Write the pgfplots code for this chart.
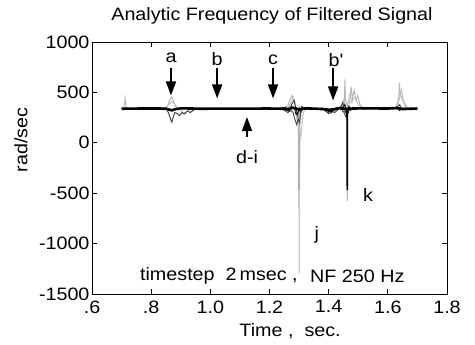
\documentclass[border=0pt]{standalone}
\usepackage{pgfplots}
\pgfplotsset{compat=1.18}
\usepackage{fontspec}
\setmainfont{Liberation Sans}
\newfontfamily\wf[FakeStretch=1.1]{Liberation Sans}
\newcommand\fs{\wf\fontsize{18}{20}\selectfont}
\usetikzlibrary{arrows.meta}
\begin{document}
\begin{tikzpicture}
\begin{axis}[
  at={(0,0)}, anchor=south west,
  scale only axis, width=355bp, height=252bp,
  xmin=0.6, xmax=1.8, ymin=-1500, ymax=1000,
  xtick={0.6,0.8,1.0,1.2,1.4,1.6,1.8},
  xticklabels={.6,.8,1.0,1.2,1.4,1.6,1.8},
  ytick={-1500,-1000,-500,0,500,1000},
  yticklabels={-1500,-1000,-500,0,500,1000},
  tick align=inside, major tick length=5bp,
  xtick pos=both, ytick pos=both,
  ticklabel style={font=\fs},
  xticklabel style={yshift=-3bp},
  yticklabel style={xshift=1bp},
  axis line style={line width=0.8bp},
  tick style={line width=0.8bp, black},
  title={Analytic Frequency of Filtered Signal},
  title style={font=\fs, at={(axis description cs:0.507,1.079)}, anchor=center},
  xlabel={Time ,\ \ sec.},
  xlabel style={font=\fs, at={(axis description cs:0.558,-0.147)}, anchor=center},
  ylabel={rad/sec},
  ylabel style={font=\fs, at={(axis description cs:-0.200,0.611)}, anchor=center, rotate=0},
  clip=false,
]
% spikes (gray)
\addplot[gray!60, line width=2.2bp] coordinates {(1.2994,340)(1.3000,-470)(1.3006,340)};
\addplot[gray!60, line width=1.1bp] coordinates {(1.2997,340)(1.3000,-1290)(1.3003,340)};
\addplot[gray!60, line width=1.1bp] coordinates {(1.4627,340)(1.4630,-580)(1.4633,340)};
% gray trace
\addplot[gray!55, line width=1bp] coordinates {
(0.700,340)(0.708,345)(0.712,445)(0.716,350)(0.725,340)(0.845,340)(0.855,360)(0.862,420)(0.868,455)(0.874,430)(0.880,370)(0.888,340)
(1.250,340)(1.262,370)(1.270,430)(1.276,470)(1.282,440)(1.288,380)(1.292,250)(1.296,300)(1.302,300)(1.308,340)
(1.440,340)(1.450,370)(1.453,400)(1.455,630)(1.457,420)(1.462,380)(1.468,360)(1.472,420)(1.476,560)(1.480,430)(1.486,520)(1.492,420)(1.498,470)(1.506,380)(1.515,340)
(1.625,340)(1.633,400)(1.637,450)(1.639,595)(1.642,480)(1.650,420)(1.660,360)(1.675,340)(1.700,340)};
% second gray trace
\addplot[gray!50, line width=1bp] coordinates {
(0.830,340)(0.850,350)(0.860,380)(0.870,410)(0.880,380)(0.890,345)(0.900,330)(0.905,300)(0.915,300)(0.925,320)(0.935,305)(0.945,325)(0.960,340)
(1.260,340)(1.272,390)(1.280,450)(1.288,360)(1.296,200)(1.302,120)(1.306,60)(1.310,180)(1.314,300)(1.322,340)
(1.440,340)(1.450,420)(1.458,360)(1.466,400)(1.472,480)(1.478,400)(1.484,440)(1.490,450)(1.500,380)(1.510,350)(1.520,340)
(1.630,340)(1.640,450)(1.646,520)(1.652,420)(1.665,350)(1.680,340)};
% dark gray traces
\addplot[black!70, line width=1bp] coordinates {
(0.700,340)(0.850,340)(0.858,300)(0.866,230)(0.870,205)(0.874,250)(0.880,300)(0.888,290)(0.896,270)(0.904,300)(0.912,285)(0.922,315)(0.932,300)(0.945,330)(0.960,340)
(1.240,340)(1.252,320)(1.262,300)(1.272,320)(1.280,300)(1.286,230)(1.292,180)(1.297,240)(1.302,200)(1.306,300)(1.312,340)
(1.380,340)(1.392,310)(1.400,290)(1.410,300)(1.420,325)(1.440,340)(1.452,300)(1.458,260)(1.464,280)(1.470,330)(1.480,345)(1.490,330)(1.500,340)
(1.630,340)(1.640,320)(1.650,345)(1.660,330)(1.700,340)};
\addplot[black!75, line width=0.9bp] coordinates {
(1.220,340)(1.240,330)(1.255,355)(1.265,310)(1.275,380)(1.283,420)(1.290,330)(1.295,270)(1.300,350)(1.305,300)(1.315,350)(1.330,335)(1.350,340)
(1.370,340)(1.385,325)(1.398,300)(1.408,315)(1.420,300)(1.432,330)(1.442,360)(1.448,400)(1.452,320)(1.458,300)(1.466,360)(1.474,320)(1.484,350)(1.500,340)
(1.620,340)(1.632,355)(1.640,380)(1.646,330)(1.660,345)(1.680,340)};
% spikes (black)
\addplot[black, line width=1.6bp] coordinates {(1.4626,340)(1.4630,-470)(1.4634,340)};
% thin black trace
\addplot[black, line width=0.8bp] coordinates {
(1.230,340)(1.250,350)(1.265,320)(1.275,360)(1.285,330)(1.290,280)(1.300,320)(1.310,360)(1.320,330)(1.340,345)(1.360,335)(1.380,345)
(1.395,320)(1.405,305)(1.415,320)(1.430,350)(1.445,330)(1.455,380)(1.462,250)(1.468,360)(1.480,330)(1.500,350)(1.520,335)(1.540,340)};
% thick black baseline
\addplot[black, line width=2.6bp] coordinates {
(0.700,338)(0.760,340)(0.830,340)(0.850,338)(0.860,330)(0.870,322)(0.880,332)(0.900,342)(0.940,340)(0.960,338)
(1.200,340)(1.240,338)(1.260,332)(1.280,348)(1.300,330)(1.320,342)(1.360,338)(1.390,332)(1.400,325)(1.420,335)(1.440,345)
(1.460,335)(1.480,340)(1.520,342)(1.600,340)(1.630,345)(1.650,335)(1.700,340)};
% annotations
\draw[line width=1.7bp, -{Triangle[length=14bp,width=10bp]}] (axis cs:0.867,745) -- (axis cs:0.867,470);
\draw[line width=1.7bp, -{Triangle[length=14bp,width=10bp]}] (axis cs:1.023,745) -- (axis cs:1.023,440);
\draw[line width=1.7bp, -{Triangle[length=14bp,width=10bp]}] (axis cs:1.212,745) -- (axis cs:1.212,440);
\draw[line width=1.7bp, -{Triangle[length=14bp,width=10bp]}] (axis cs:1.415,745) -- (axis cs:1.415,420);
\draw[line width=1.7bp, -{Triangle[length=14bp,width=10bp]}] (axis cs:1.124,57) -- (axis cs:1.124,255);
\node[font=\fs, anchor=base] at (axis cs:0.867,800) {a};
\node[font=\fs, anchor=base] at (axis cs:1.023,770) {b};
\node[font=\fs, anchor=base] at (axis cs:1.212,775) {c};
\node[font=\fs, anchor=base] at (axis cs:1.425,755) {b'};
\node[font=\fs, anchor=center] at (axis cs:1.124,-140) {d-i};
\node[font=\fs, anchor=center] at (axis cs:1.36,-915) {j};
\node[font=\fs, anchor=center] at (axis cs:1.533,-517) {k};
\node[font=\fs, anchor=west, inner sep=0pt] at (axis cs:0.762,-1320) {timestep\ \ 2\,msec ,};
\node[font=\fs, anchor=west, inner sep=0pt] at (axis cs:1.337,-1320) {NF 250 Hz};
\end{axis}
\pgfresetboundingbox
\useasboundingbox (-92bp,-51bp) rectangle (383bp,294bp);
\end{tikzpicture}
\end{document}
